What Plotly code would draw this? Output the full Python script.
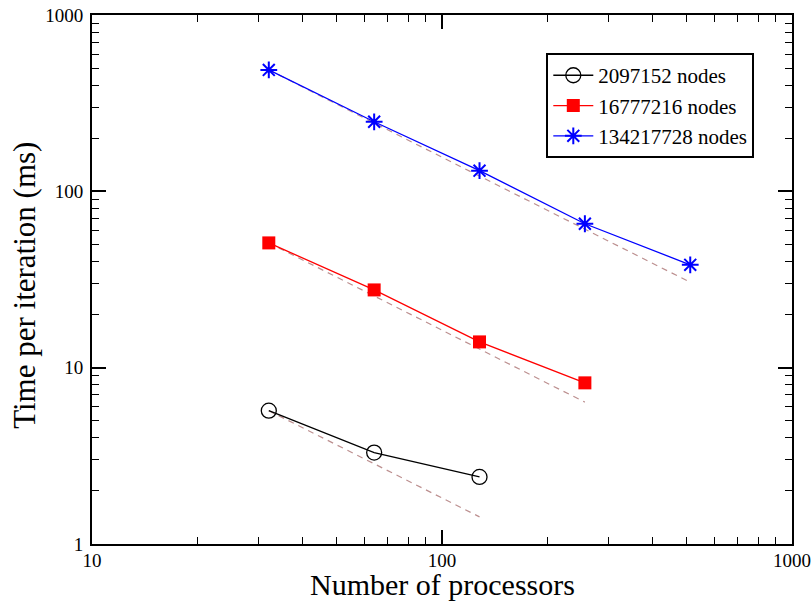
import plotly.graph_objects as go

procs_small = [32, 64, 128]
time_small = [5.7, 3.3, 2.4]
procs_mid = [32, 64, 128, 256]
time_mid = [51, 27.6, 14.0, 8.2]
procs_large = [32, 64, 128, 256, 512]
time_large = [488, 248, 131, 65.5, 38.3]

series_names = ["2097152 nodes", "16777216 nodes", "134217728 nodes"]

x_ticks = [10, 100, 1000]
y_ticks = [1, 10, 100, 1000]

FONT = "Liberation Serif, Times New Roman, serif"


def ideal(px, py):
    # ideal linear scaling from the first point
    return [px[0], px[-1]], [py[0], py[0] * px[0] / px[-1]]


def minor_vals(lo, hi):
    vals = []
    d = lo
    while d < hi:
        vals += [d * k for k in range(2, 10)]
        d *= 10
    return vals


fig = go.Figure()

for px, py in [(procs_small, time_small), (procs_mid, time_mid), (procs_large, time_large)]:
    ix, iy = ideal(px, py)
    fig.add_trace(go.Scatter(x=ix, y=iy, mode="lines", showlegend=False,
                             line=dict(color="#bc8f8f", width=1.2, dash="6px,5px"),
                             hoverinfo="skip"))

fig.add_trace(go.Scatter(x=procs_small, y=time_small, mode="lines+markers", name=series_names[0],
                         line=dict(color="black", width=1.3),
                         marker=dict(symbol="circle-open", size=15, color="black",
                                     line=dict(color="black", width=1.3))))
fig.add_trace(go.Scatter(x=procs_mid, y=time_mid, mode="lines+markers", name=series_names[1],
                         line=dict(color="red", width=1.3),
                         marker=dict(symbol="square", size=13, color="red",
                                     line=dict(color="red", width=0))))
fig.add_trace(go.Scatter(x=procs_large, y=time_large, mode="lines+markers", name=series_names[2],
                         line=dict(color="blue", width=1.3),
                         marker=dict(symbol="asterisk-open", size=14, color="blue",
                                     line=dict(color="blue", width=2))))

axis_common = dict(
    type="log", showgrid=False, zeroline=False, automargin=False,
    showline=True, linecolor="black", linewidth=2, mirror="ticks",
    ticks="inside", ticklen=14, tickwidth=1.5, tickcolor="black",
    tickfont=dict(family=FONT, size=19, color="black"),
)

fig.update_xaxes(**axis_common, range=[1, 3], tickvals=x_ticks, ticktext=[str(v) for v in x_ticks],
                 ticklabelstandoff=-2,
                 minor=dict(ticks="inside", ticklen=7, tickwidth=1.2, tickcolor="black",
                            showgrid=False, tickvals=minor_vals(10, 1000)))
fig.update_yaxes(**axis_common, range=[0, 3], tickvals=y_ticks, ticktext=[str(v) for v in y_ticks],
                 ticklabelstandoff=3,
                 minor=dict(ticks="inside", ticklen=7, tickwidth=1.2, tickcolor="black",
                            showgrid=False, tickvals=minor_vals(1, 1000)))

fig.add_annotation(text="Number of processors", xref="paper", yref="paper",
                   x=0.5, y=-0.1096, xanchor="center", yanchor="bottom", showarrow=False,
                   borderpad=0, font=dict(family=FONT, size=30, color="black"))
fig.add_annotation(text="Time per iteration (ms)", xref="paper", yref="paper",
                   x=-0.0957, y=0.488, xanchor="center", yanchor="middle", showarrow=False,
                   textangle=-90, font=dict(family=FONT, size=31, color="black"))

fig.update_layout(
    width=811, height=602,
    margin=dict(l=92, r=19, t=15, b=58),
    paper_bgcolor="white", plot_bgcolor="white",
    font=dict(family=FONT, color="black"),
    legend=dict(x=0.649, y=0.928, xanchor="left", yanchor="top",
                bgcolor="white", bordercolor="black", borderwidth=2,
                font=dict(family=FONT, size=21, color="black"),
                itemwidth=40, tracegroupgap=0),
    showlegend=True,
)

fig.write_html("out.html", config={"displayModeBar": False},
               post_script="document.body.style.margin='0';document.body.style.overflow='hidden';")
